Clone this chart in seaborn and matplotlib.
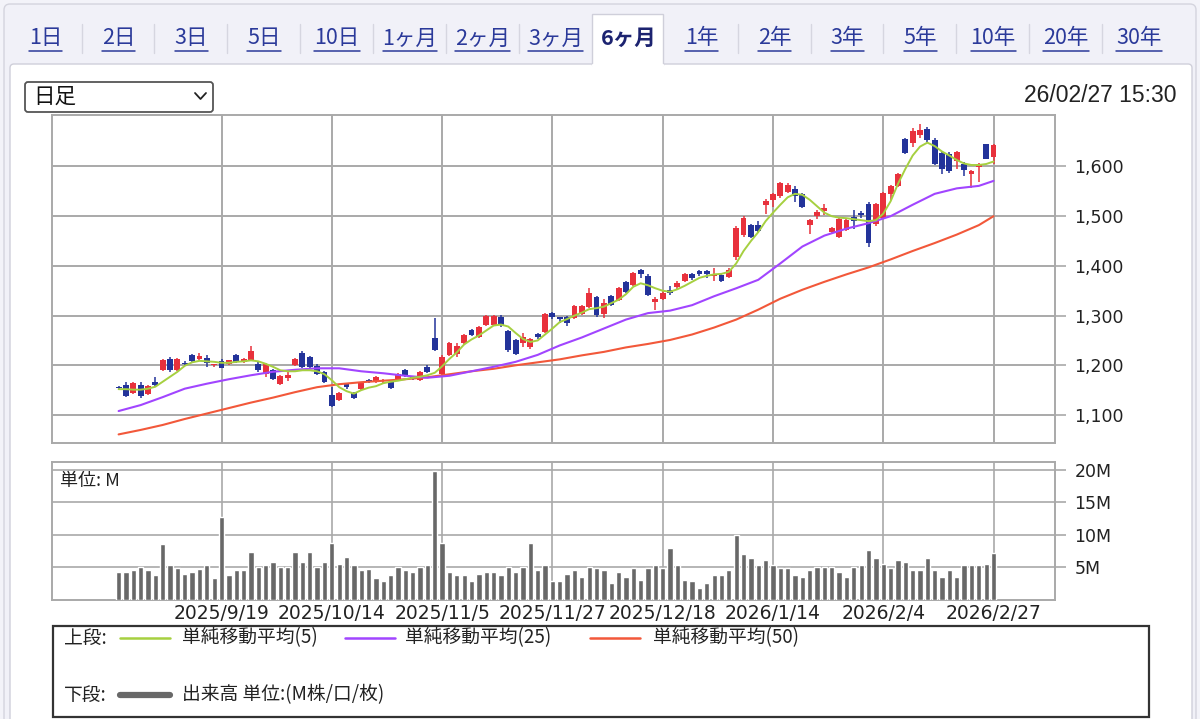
import matplotlib
matplotlib.use("Agg")
import numpy as np
import pandas as pd
import matplotlib.pyplot as plt
import seaborn as sns
from matplotlib.patches import Rectangle, FancyBboxPatch

# ---------------- data ----------------
tab_labels = ["1日", "2日", "3日", "5日", "10日", "1ヶ月", "2ヶ月", "3ヶ月", "6ヶ月",
              "1年", "2年", "3年", "5年", "10年", "20年", "30年"]
selected_tab = "6ヶ月"
timestamp = "26/02/27 15:30"
period_label = "日足"

date_labels = ["2025/9/19", "2025/10/14", "2025/11/5", "2025/11/27",
               "2025/12/18", "2026/1/14", "2026/2/4", "2026/2/27"]
date_label_idx = [14, 29, 44, 59, 74, 89, 104, 119]
price_ticks = [1100, 1200, 1300, 1400, 1500, 1600]
volume_ticks = [5, 10, 15, 20]

opens = [1156, 1161, 1145, 1161, 1143, 1167, 1190, 1212, 1191, 1205,
         1220, 1213, 1215, 1200, 1208, 1203, 1220, 1207, 1210, 1203,
         1183, 1190, 1163, 1175, 1200, 1225, 1217, 1199, 1187, 1140,
         1130, 1162, 1144, 1152, 1171, 1166, 1168, 1166, 1170, 1190,
         1176, 1170, 1197, 1255, 1183, 1220, 1223, 1245, 1271, 1257,
         1282, 1282, 1298, 1269, 1250, 1245, 1237, 1263, 1267, 1305,
         1297, 1297, 1296, 1304, 1317, 1338, 1304, 1340, 1331, 1368,
         1361, 1391, 1380, 1327, 1334, 1351, 1358, 1369, 1383, 1389,
         1389, 1380, 1382, 1378, 1417, 1462, 1482, 1482, 1522, 1533,
         1540, 1549, 1554, 1544, 1482, 1501, 1510, 1469, 1458, 1473,
         1498, 1507, 1525, 1485, 1497, 1544, 1561, 1656, 1648, 1663,
         1675, 1653, 1628, 1625, 1612, 1606, 1584, 1598, 1645, 1619]
highs = [1158, 1166, 1167, 1166, 1160, 1176, 1212, 1217, 1215, 1208,
         1223, 1224, 1221, 1203, 1213, 1211, 1222, 1214, 1239, 1206,
         1204, 1193, 1180, 1187, 1214, 1228, 1219, 1202, 1189, 1156,
         1146, 1165, 1146, 1166, 1172, 1178, 1173, 1168, 1184, 1192,
         1179, 1188, 1201, 1295, 1221, 1247, 1244, 1262, 1274, 1280,
         1302, 1301, 1302, 1272, 1252, 1265, 1254, 1265, 1305, 1307,
         1298, 1300, 1322, 1321, 1355, 1340, 1333, 1342, 1358, 1370,
         1388, 1393, 1383, 1337, 1351, 1360, 1370, 1385, 1386, 1391,
         1391, 1395, 1385, 1395, 1481, 1500, 1484, 1490, 1534, 1546,
         1569, 1566, 1561, 1546, 1495, 1513, 1525, 1479, 1497, 1494,
         1512, 1510, 1529, 1527, 1548, 1562, 1587, 1658, 1678, 1685,
         1680, 1657, 1630, 1629, 1632, 1609, 1592, 1608, 1646, 1646]
lows = [1151, 1136, 1143, 1135, 1141, 1159, 1188, 1186, 1189, 1198,
        1206, 1211, 1196, 1196, 1194, 1201, 1205, 1205, 1208, 1187,
        1176, 1170, 1160, 1168, 1198, 1195, 1194, 1181, 1164, 1116,
        1128, 1153, 1132, 1150, 1164, 1164, 1162, 1152, 1168, 1177,
        1170, 1168, 1185, 1229, 1181, 1218, 1216, 1243, 1258, 1255,
        1280, 1280, 1277, 1227, 1220, 1237, 1232, 1253, 1265, 1294,
        1286, 1280, 1294, 1302, 1315, 1298, 1296, 1320, 1329, 1345,
        1359, 1375, 1340, 1311, 1332, 1342, 1354, 1367, 1372, 1380,
        1375, 1370, 1368, 1376, 1412, 1458, 1456, 1467, 1505, 1518,
        1537, 1546, 1528, 1516, 1465, 1494, 1502, 1465, 1456, 1471,
        1475, 1497, 1438, 1480, 1494, 1532, 1558, 1626, 1640, 1657,
        1650, 1603, 1584, 1586, 1594, 1580, 1557, 1568, 1615, 1605]
closes = [1154, 1139, 1165, 1138, 1159, 1161, 1210, 1191, 1213, 1202,
          1208, 1219, 1205, 1202, 1195, 1210, 1206, 1213, 1228, 1190,
          1203, 1173, 1179, 1181, 1213, 1197, 1196, 1182, 1166, 1119,
          1145, 1157, 1134, 1164, 1169, 1176, 1171, 1154, 1183, 1179,
          1173, 1187, 1187, 1231, 1217, 1245, 1239, 1260, 1260, 1278,
          1300, 1299, 1281, 1230, 1222, 1257, 1253, 1256, 1303, 1297,
          1293, 1285, 1320, 1319, 1346, 1301, 1325, 1322, 1356, 1348,
          1386, 1383, 1342, 1334, 1345, 1345, 1365, 1383, 1376, 1384,
          1383, 1384, 1370, 1392, 1476, 1496, 1458, 1470, 1530, 1544,
          1567, 1563, 1540, 1519, 1493, 1509, 1517, 1476, 1495, 1493,
          1491, 1502, 1447, 1524, 1546, 1560, 1585, 1628, 1671, 1674,
          1654, 1606, 1594, 1590, 1629, 1592, 1590, 1605, 1616, 1643]
volumes = [4.3, 4.3, 4.6, 5.0, 4.6, 3.8, 8.5, 5.3, 4.9, 4.0, 4.3, 4.8, 5.3, 3.4, 12.8,
           3.8, 4.6, 4.6, 7.4, 5.0, 5.3, 5.8, 5.0, 5.0, 7.4, 5.8, 7.4, 5.0, 5.8, 8.7,
           5.5, 6.6, 5.3, 4.6, 4.8, 3.4, 2.8, 3.8, 5.0, 4.6, 4.3, 5.0, 5.3, 19.8, 8.7,
           4.3, 3.8, 3.8, 2.8, 4.0, 4.3, 4.3, 3.8, 5.0, 4.3, 5.0, 8.7, 4.6, 5.3, 2.8,
           2.8, 4.0, 4.6, 3.5, 5.0, 4.9, 4.6, 2.6, 4.3, 3.5, 4.9, 3.1, 4.9, 5.3, 4.9,
           8.0, 5.3, 3.1, 2.8, 1.8, 2.6, 3.8, 3.8, 4.6, 9.9, 7.0, 6.4, 5.3, 6.1, 5.3,
           4.9, 4.9, 3.8, 3.5, 4.6, 5.0, 5.0, 5.0, 4.3, 3.5, 5.0, 5.3, 7.6, 6.4, 5.5,
           4.9, 6.1, 5.8, 4.6, 4.6, 6.4, 4.6, 3.5, 4.6, 3.5, 5.3, 5.3, 5.3, 5.5, 7.2]
ma5 = [1152, 1152, 1151, 1151, 1153, 1157, 1167, 1177, 1187, 1199,
       1206, 1209, 1208, 1207, 1205, 1205, 1207, 1208, 1210, 1208,
       1203, 1197, 1190, 1188, 1188, 1190, 1190, 1188, 1182, 1170,
       1156, 1148, 1143, 1150, 1155, 1158, 1164, 1167, 1169, 1172,
       1175, 1177, 1180, 1185, 1198, 1213, 1226, 1242, 1252, 1260,
       1270, 1280, 1282, 1278, 1265, 1253, 1247, 1250, 1262, 1274,
       1287, 1293, 1300, 1306, 1313, 1315, 1318, 1325, 1332, 1343,
       1358, 1365, 1361, 1355, 1350, 1348, 1353, 1360, 1368, 1376,
       1380, 1383, 1384, 1388, 1405, 1430, 1450, 1468, 1490, 1507,
       1523, 1538, 1545, 1543, 1533, 1520, 1507, 1500, 1497, 1496,
       1494, 1492, 1490, 1492, 1505, 1530, 1565, 1595, 1622, 1640,
       1648, 1641, 1630, 1622, 1613, 1606, 1603, 1603, 1605, 1610]
ma_sample_idx = [0, 3, 6, 9, 12, 15, 18, 21, 24, 27, 30, 33, 36, 39, 42, 45, 48, 51,
                 54, 57, 60, 63, 66, 69, 72, 75, 78, 81, 84, 87, 90, 93, 96, 99, 102,
                 105, 108, 111, 114, 117, 119]
ma25 = [1108, 1120, 1136, 1153, 1163, 1172, 1180, 1187, 1191, 1194, 1194, 1188, 1184,
        1179, 1175, 1179, 1188, 1197, 1207, 1221, 1240, 1256, 1274, 1292, 1305, 1310,
        1321, 1339, 1355, 1372, 1405, 1439, 1461, 1475, 1486, 1500, 1523, 1545, 1556,
        1561, 1571]
ma50 = [1061, 1070, 1080, 1092, 1103, 1114, 1125, 1135, 1146, 1156, 1162, 1166, 1169,
        1172, 1176, 1182, 1188, 1193, 1200, 1206, 1212, 1220, 1227, 1236, 1243, 1251,
        1262, 1276, 1292, 1312, 1334, 1352, 1368, 1383, 1397, 1413, 1430, 1446, 1463,
        1482, 1500]
legend_labels = ["単純移動平均(5)", "単純移動平均(25)", "単純移動平均(50)"]
legend_upper = "上段:"
legend_lower = "下段:"
legend_volume = "出来高 単位:(M株/口/枚)"
volume_unit = "単位: M"

# ---------------- style ----------------
sns.set_theme(style="white")
plt.rcParams["font.family"] = ["Noto Sans CJK JP", "DejaVu Sans"]

UP = "#e8313c"
DOWN = "#23339a"
C5 = "#a6d040"
C25 = "#a145ff"
C50 = "#f2583a"
GRID = "#a9a9a9"
LINK = "#2b3a9a"

W, H = 1200, 719
fig = plt.figure(figsize=(W / 100, H / 100), dpi=100)
fig.patch.set_facecolor("#f3f3f9")

bg = fig.add_axes([0, 0, 1, 1], zorder=0)
bg.set_xlim(0, W)
bg.set_ylim(H, 0)
bg.axis("off")

# outer frame + panel
bg.add_patch(FancyBboxPatch((4, 4), 1192, 760, boxstyle="round,pad=0,rounding_size=6",
                            facecolor="#f1f1f8", edgecolor="#d4d4de", lw=1))
bg.add_patch(FancyBboxPatch((10, 64), 1182, 700, boxstyle="round,pad=0,rounding_size=4",
                            facecolor="white", edgecolor="#cfcfda", lw=1))
bg.add_patch(Rectangle((592, 14), 71, 51, facecolor="white", edgecolor="#cfcfda", lw=1, zorder=3))
bg.plot([593, 662], [65, 65], color="white", lw=2.5, zorder=4)

# tabs
tab_texts = []
for i, lab in enumerate(tab_labels):
    cx = 45.5 + 72.9 * i
    sel = lab == selected_tab
    t = bg.text(cx, 38.5, lab, ha="center", va="center", fontsize=15.5,
                color="#1c2370" if sel else LINK, fontweight="bold" if sel else "normal",
                zorder=5)
    tab_texts.append((t, sel))
    if i < len(tab_labels) - 1:
        sx = 81.5 + 72.9 * i
        if abs(sx - 592) > 5 and abs(sx - 663) > 5:
            bg.plot([sx, sx], [24, 53], color="#d6d6e0", lw=1, zorder=2)

# dropdown + timestamp
bg.add_patch(FancyBboxPatch((25, 82), 188, 30, boxstyle="round,pad=0,rounding_size=3",
                            facecolor="white", edgecolor="#555555", lw=1.3))
bg.text(33, 97, period_label, ha="left", va="center", fontsize=15.5, color="#111111")
bg.plot([195, 200.5, 206], [93, 99, 93], color="#222222", lw=1.3)
bg.text(1176, 95, timestamp, ha="right", va="center", fontsize=16.5,
        family=["Liberation Sans", "DejaVu Sans"], color="#222222")

# ---------------- dataframes ----------------
n = len(opens)
df = pd.DataFrame({"i": np.arange(n), "open": opens, "high": highs, "low": lows,
                   "close": closes, "volume": volumes, "ma5": ma5})
df["up"] = df["close"] >= df["open"]
df["col"] = np.where(df["up"], UP, DOWN)
df["body_lo"] = df[["open", "close"]].min(axis=1)
df["body_h"] = (df["close"] - df["open"]).abs().clip(lower=1.5)
ma_df = pd.DataFrame({"i": ma_sample_idx, "ma25": ma25, "ma50": ma50})

XL = (-9.06, 127.36)

# ---------------- price panel ----------------
ax = fig.add_axes([52 / W, 1 - 443 / H, 1003 / W, 328 / H], zorder=2)
ax.set_facecolor("white")
ax.set_axisbelow(True)
ax.vlines(df["i"], df["low"], df["high"], colors=df["col"], lw=1.1, zorder=3)
ax.bar(df["i"], df["body_h"], bottom=df["body_lo"], width=0.8, color=df["col"],
       linewidth=0, zorder=4)
sns.lineplot(data=ma_df, x="i", y="ma50", ax=ax, color=C50, lw=1.5, zorder=5)
sns.lineplot(data=ma_df, x="i", y="ma25", ax=ax, color=C25, lw=1.5, zorder=5)
sns.lineplot(data=df, x="i", y="ma5", ax=ax, color=C5, lw=1.4, zorder=6)
ax.set_xlim(*XL)
ax.set_ylim(1043.7, 1703.6)
ax.set_xticks(date_label_idx)
ax.set_xticklabels([])
ax.set_yticks(price_ticks)
ax.set_yticklabels([f"{v:,}" for v in price_ticks])
ax.yaxis.tick_right()
ax.grid(True, color=GRID, lw=1.4)
ax.tick_params(axis="x", length=0)
ax.tick_params(axis="y", length=8, width=1.2, color=GRID, pad=6, labelsize=12.5,
               labelcolor="#222222", labelfontfamily="DejaVu Sans")
for s in ax.spines.values():
    s.set_color(GRID)
    s.set_linewidth(1.4)
ax.set_xlabel("")
ax.set_ylabel("")

# ---------------- volume panel ----------------
axv = fig.add_axes([52 / W, 1 - 600 / H, 1003 / W, 138 / H], zorder=2)
axv.set_facecolor("white")
axv.set_axisbelow(True)
sns.barplot(data=df, x="i", y="volume", native_scale=True, ax=axv, color="#686868",
            saturation=1, width=0.72, errorbar=None, zorder=3)
axv.set_xlim(*XL)
axv.set_ylim(-0.05, 21.2)
axv.set_yticks(volume_ticks)
axv.set_yticklabels([f"{v}M" for v in volume_ticks])
axv.set_xticks(date_label_idx)
axv.set_xticklabels(date_labels)
axv.yaxis.tick_right()
axv.grid(True, color=GRID, lw=1.2)
axv.tick_params(axis="x", length=0, pad=3, labelsize=13.5, labelcolor="#222222",
                labelfontfamily="DejaVu Sans")
axv.tick_params(axis="y", length=8, width=1.2, color=GRID, pad=6, labelsize=12.5,
                labelcolor="#222222", labelfontfamily="DejaVu Sans")
for s in axv.spines.values():
    s.set_color(GRID)
    s.set_linewidth(1.4)
axv.set_xlabel("")
axv.set_ylabel("")
axv.text(0.008, 0.93, volume_unit, transform=axv.transAxes, ha="left", va="top",
         fontsize=13, color="#222222", family=["Noto Sans CJK JP", "DejaVu Sans"])

# ---------------- legend box ----------------
bg.add_patch(Rectangle((53, 626), 1096, 91, facecolor="white", edgecolor="#333333", lw=1.6,
                       zorder=2))
bg.text(64, 638, legend_upper, ha="left", va="center", fontsize=13.5, color="#222222", zorder=3)
for (x0, col, lab, tx) in [(120, C5, legend_labels[0], 182),
                           (345, C25, legend_labels[1], 405),
                           (590, C50, legend_labels[2], 653)]:
    bg.plot([x0, x0 + 50], [638, 638], color=col, lw=1.8, zorder=3)
    bg.text(tx, 638, lab, ha="left", va="center", fontsize=13.5, color="#222222", zorder=3)
bg.text(64, 695, legend_lower, ha="left", va="center", fontsize=13.5, color="#222222", zorder=3)
bg.plot([120, 170], [695, 695], color="#686868", lw=4.5, zorder=3)
bg.text(182, 695, legend_volume, ha="left", va="center", fontsize=13.5, color="#222222", zorder=3)

# underline links
fig.canvas.draw()
r = fig.canvas.get_renderer()
for t, sel in tab_texts:
    if sel:
        continue
    bb = t.get_window_extent(r)
    bg.plot([bb.x0, bb.x1], [51, 51], color=LINK, lw=1.1, zorder=5)

fig.savefig("out.png", dpi=100, facecolor=fig.get_facecolor())
